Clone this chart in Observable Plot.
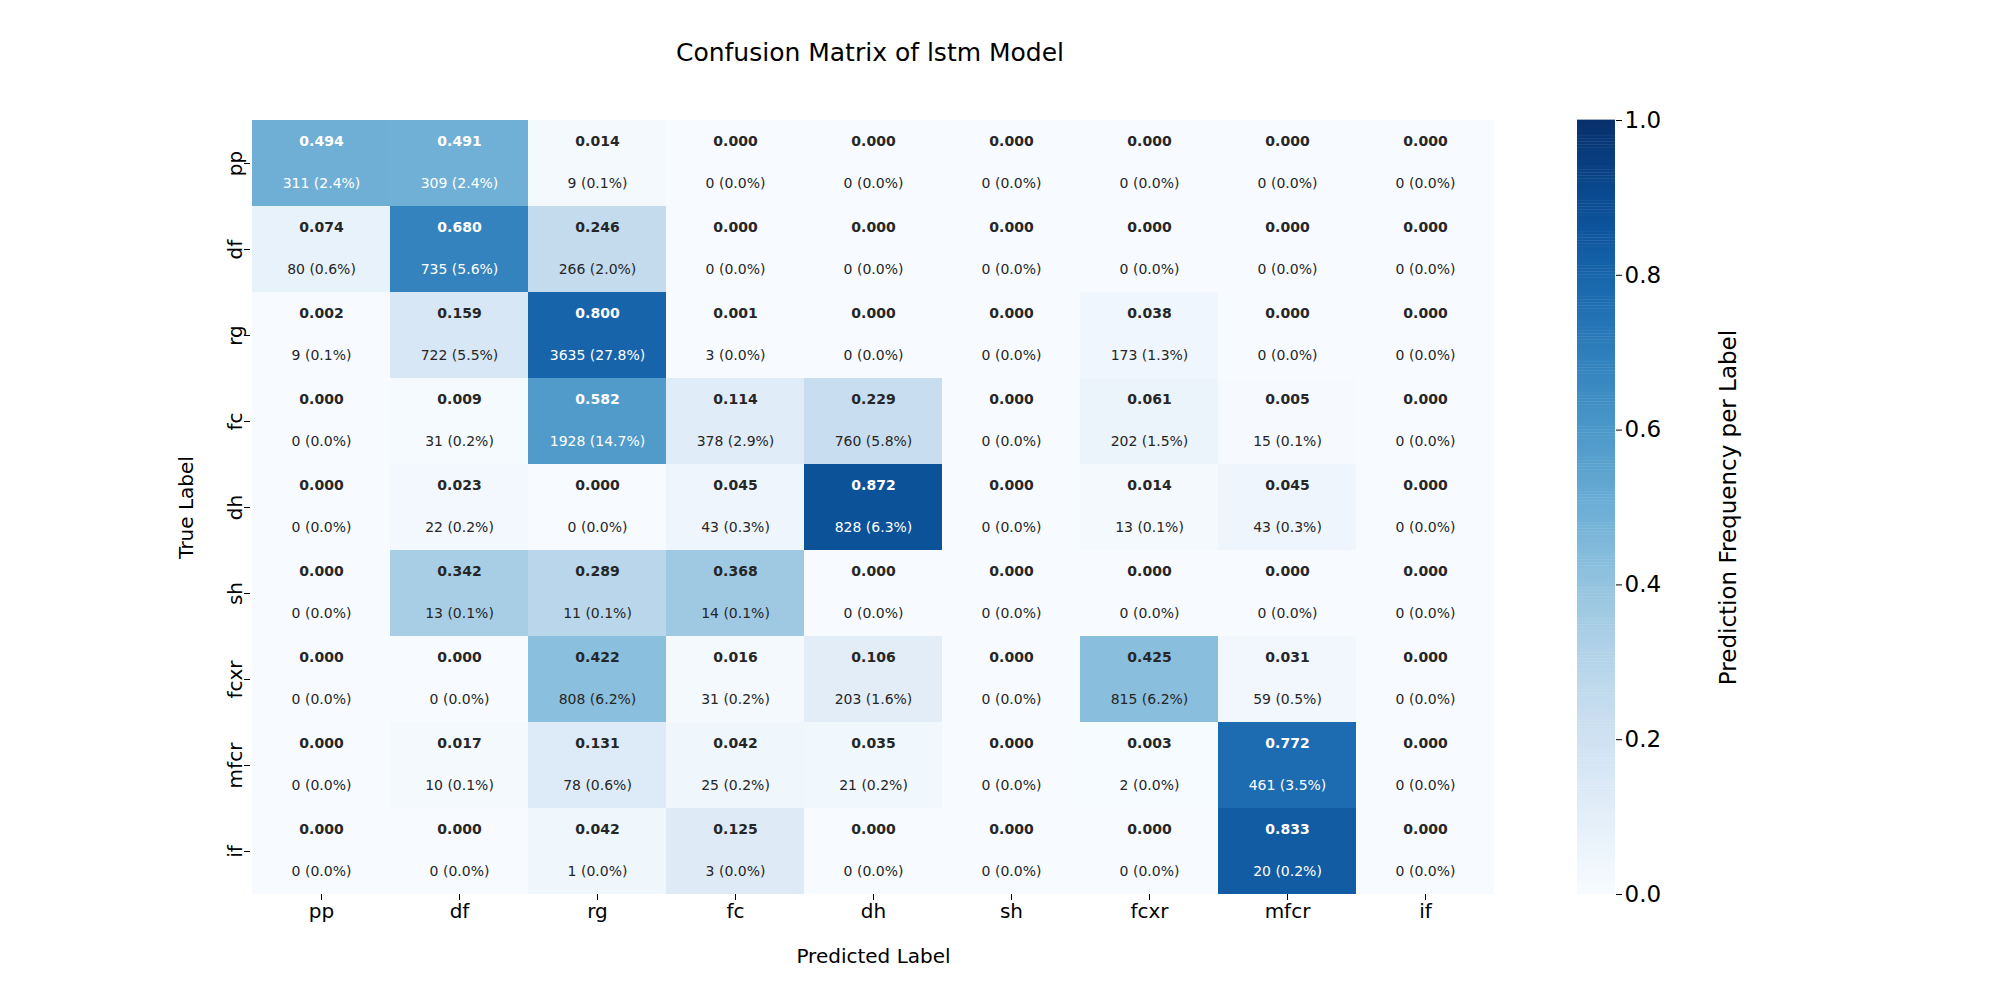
<!DOCTYPE html>
<html>
<head>
<meta charset="utf-8">
<script src="https://cdn.jsdelivr.net/npm/d3@7"></script>
<script src="https://cdn.jsdelivr.net/npm/@observablehq/plot@0.6"></script>
<style>
  body { margin: 0; background: #fff; font-family: "DejaVu Sans", sans-serif; }
  #wrap { position: relative; width: 2000px; height: 1000px; }
  #title { position: absolute; top: 38px; left: 0; width: 1740px; text-align: center; font-size: 25px; color: #000; }
  #main { position: absolute; left: 0; top: 0; }
  #bar { position: absolute; left: 1500px; top: 0; }
</style>
</head>
<body>
<div id="wrap">
  <div id="title">Confusion Matrix of lstm Model</div>
  <div id="main"></div>
  <div id="bar"></div>
</div>
<script>
const labels = ["pp", "df", "rg", "fc", "dh", "sh", "fcxr", "mfcr", "if"];
const rates = [
  [0.494, 0.491, 0.014, 0.000, 0.000, 0.000, 0.000, 0.000, 0.000],
  [0.074, 0.680, 0.246, 0.000, 0.000, 0.000, 0.000, 0.000, 0.000],
  [0.002, 0.159, 0.800, 0.001, 0.000, 0.000, 0.038, 0.000, 0.000],
  [0.000, 0.009, 0.582, 0.114, 0.229, 0.000, 0.061, 0.005, 0.000],
  [0.000, 0.023, 0.000, 0.045, 0.872, 0.000, 0.014, 0.045, 0.000],
  [0.000, 0.342, 0.289, 0.368, 0.000, 0.000, 0.000, 0.000, 0.000],
  [0.000, 0.000, 0.422, 0.016, 0.106, 0.000, 0.425, 0.031, 0.000],
  [0.000, 0.017, 0.131, 0.042, 0.035, 0.000, 0.003, 0.772, 0.000],
  [0.000, 0.000, 0.042, 0.125, 0.000, 0.000, 0.000, 0.833, 0.000]
];
const counts = [
  [311, 309, 9, 0, 0, 0, 0, 0, 0],
  [80, 735, 266, 0, 0, 0, 0, 0, 0],
  [9, 722, 3635, 3, 0, 0, 173, 0, 0],
  [0, 31, 1928, 378, 760, 0, 202, 15, 0],
  [0, 22, 0, 43, 828, 0, 13, 43, 0],
  [0, 13, 11, 14, 0, 0, 0, 0, 0],
  [0, 0, 808, 31, 203, 0, 815, 59, 0],
  [0, 10, 78, 25, 21, 0, 2, 461, 0],
  [0, 0, 1, 3, 0, 0, 0, 20, 0]
];

const total = d3.sum(counts.flat());
const cells = [];
labels.forEach((t, i) => labels.forEach((p, j) => {
  cells.push({
    truth: t, pred: p, rate: rates[i][j], count: counts[i][j],
    txt: `${counts[i][j]} (${(counts[i][j] / total * 100).toFixed(1)}%)`
  });
}));
const textColor = d => d.rate > 0.45 ? "white" : "#262626";

const main = Plot.plot({
  width: 1520, height: 1000,
  marginLeft: 250, marginRight: 24, marginTop: 120, marginBottom: 106,
  style: { fontFamily: "DejaVu Sans, sans-serif", fontSize: "20px", color: "#000" },
  x: { domain: labels, padding: 0, label: "Predicted Label", labelAnchor: "center", labelArrow: "none", labelOffset: 68, tickSize: 6 },
  y: { domain: labels, padding: 0, label: "True Label", labelAnchor: "center", labelArrow: "none", labelOffset: 72, tickSize: 6, tickRotate: -90 },
  color: { type: "linear", scheme: "blues", domain: [0, 1] },
  marks: [
    Plot.cell(cells, { x: "pred", y: "truth", fill: "rate" }),
    Plot.text(cells, { x: "pred", y: "truth", text: d => d.rate.toFixed(3), dy: -22, fill: textColor, fontWeight: "bold", fontSize: 14 }),
    Plot.text(cells, { x: "pred", y: "truth", text: "txt", dy: 20, fill: textColor, fontSize: 14 })
  ]
});
d3.select("#main").append(() => main);

const ramp = d3.range(0, 1, 0.004);
const bar = Plot.plot({
  width: 300, height: 1000,
  marginLeft: 77, marginRight: 185, marginTop: 120, marginBottom: 106,
  style: { fontFamily: "DejaVu Sans, sans-serif", fontSize: "23px", color: "#000" },
  x: { axis: null, domain: [0, 1] },
  y: { domain: [0, 1], axis: "right", ticks: [0, 0.2, 0.4, 0.6, 0.8, 1.0], tickFormat: d3.format(".1f"), tickSize: 6,
       label: "Prediction Frequency per Label", labelAnchor: "center", labelArrow: "none", labelOffset: 120 },
  color: { type: "linear", scheme: "blues", domain: [0, 1] },
  marks: [
    Plot.rect(ramp, { x1: 0, x2: 1, y1: d => d, y2: d => d + 0.0045, fill: d => d + 0.002 })
  ]
});
d3.select("#bar").append(() => bar);
</script>
</body>
</html>
